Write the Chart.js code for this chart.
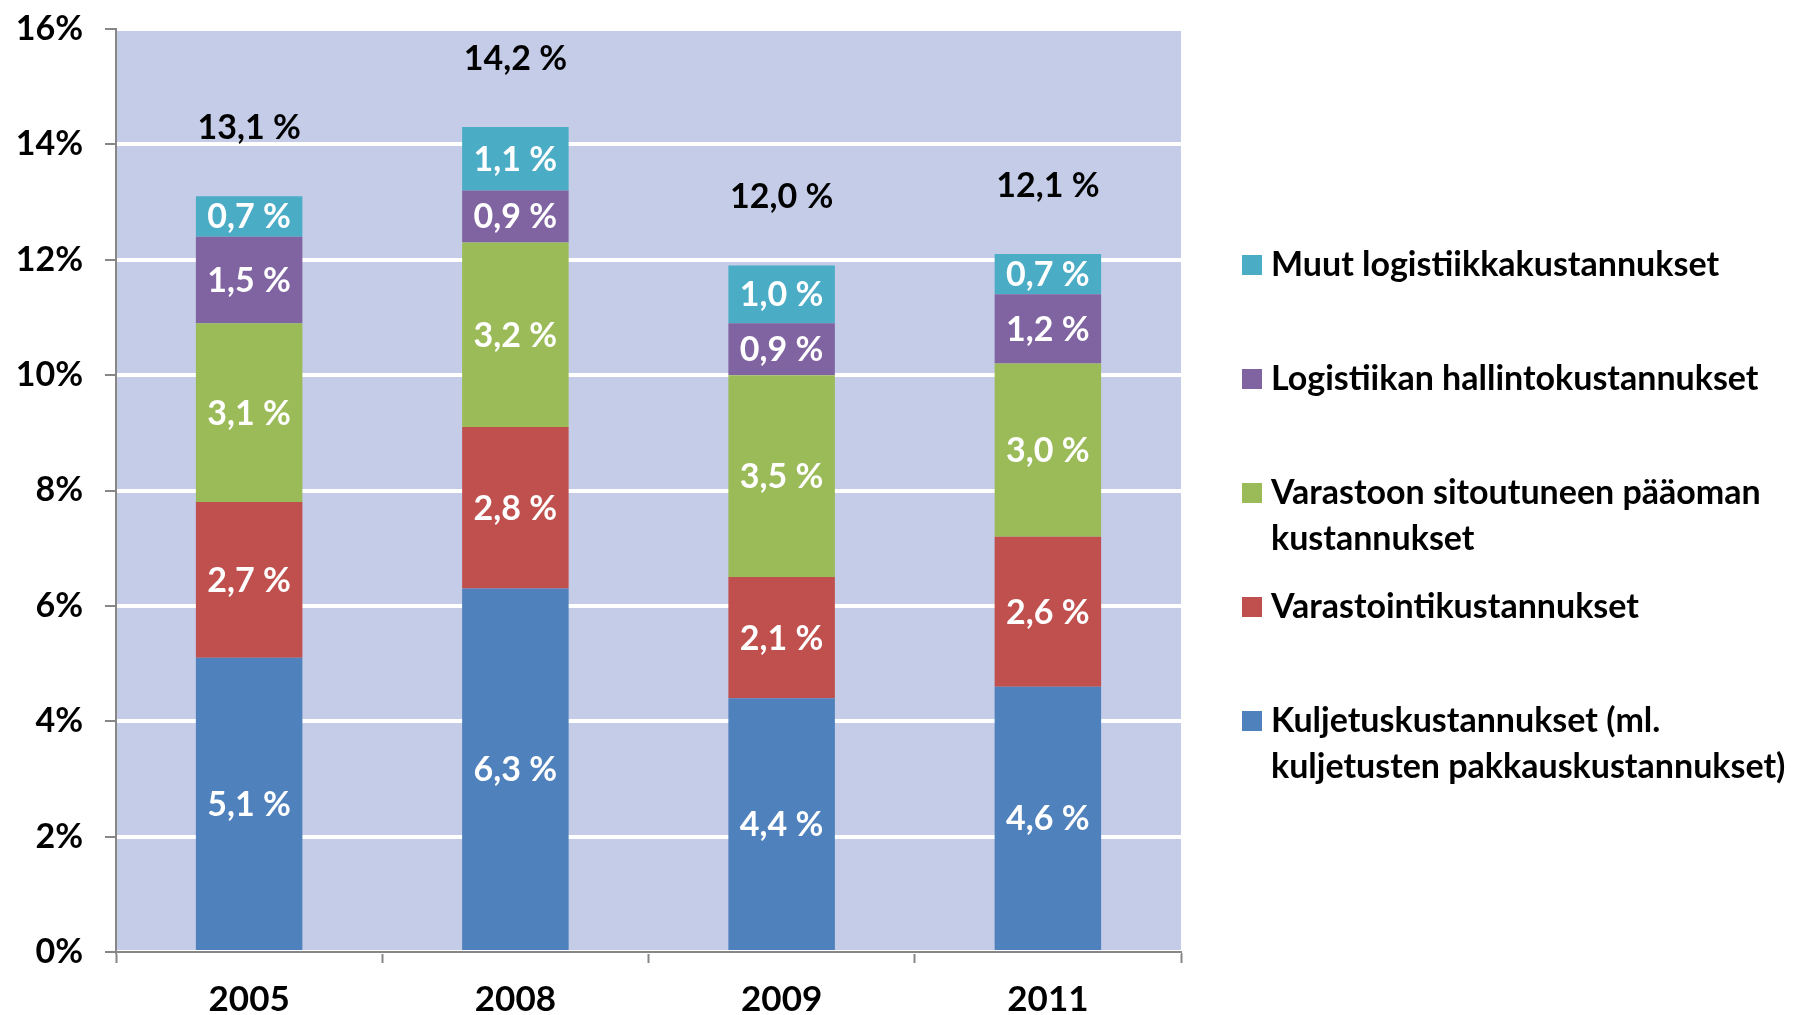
<!DOCTYPE html>
<html>
<head>
<meta charset="utf-8">
<title>Logistiikkakustannukset</title>
<script src="https://cdn.jsdelivr.net/npm/chart.js@4.4.0/dist/chart.umd.min.js"></script>
<style>
body{margin:0;background:#fff;}
#wrap{width:1807px;height:1015px;}
</style>
</head>
<body>
<div id="wrap"><canvas id="chart" width="1807" height="1015"></canvas></div>
<script>
var years = ['2005', '2008', '2009', '2011'];
var kuljetus = [5.1, 6.3, 4.4, 4.6];
var varastointi = [2.7, 2.8, 2.1, 2.6];
var paaoma = [3.1, 3.2, 3.5, 3.0];
var hallinto = [1.5, 0.9, 0.9, 1.2];
var muut = [0.7, 1.1, 1.0, 0.7];
var totals = [13.1, 14.2, 12.0, 12.1];
var yTicks = [0, 2, 4, 6, 8, 10, 12, 14, 16];

var seriesNames = [
  'Kuljetuskustannukset (ml.\nkuljetusten pakkauskustannukset)',
  'Varastointikustannukset',
  'Varastoon sitoutuneen pääoman\nkustannukset',
  'Logistiikan hallintokustannukset',
  'Muut logistiikkakustannukset'
];
var seriesColors = ['#4f81bd', '#c0504d', '#9bbb59', '#8064a2', '#4bacc6'];
var seriesData = [kuljetus, varastointi, paaoma, hallinto, muut];

function fmt(v){
  return v.toFixed(1).replace('.', ',') + ' %';
}

Chart.defaults.font.family = 'Lato, "Open Sans", sans-serif';
Chart.defaults.color = '#000';

var datasets = [];
for (var i = 0; i < seriesData.length; i++) {
  datasets.push({
    label: seriesNames[i].replace('\n', ' '),
    data: seriesData[i],
    backgroundColor: seriesColors[i],
    borderWidth: 0,
    barPercentage: 0.4,
    categoryPercentage: 1
  });
}

// plot area fill
var plotBg = {
  id: 'plotBg',
  beforeDraw: function(chart){
    var a = chart.chartArea;
    var ctx = chart.ctx;
    ctx.save();
    ctx.fillStyle = '#c5cce8';
    ctx.fillRect(a.left, a.top, a.right - a.left, a.bottom - a.top);
    ctx.restore();
  }
};

// value labels inside segments + totals above
var barLabels = {
  id: 'barLabels',
  afterDatasetsDraw: function(chart){
    var ctx = chart.ctx;
    ctx.save();
    ctx.textAlign = 'center';
    ctx.textBaseline = 'middle';
    ctx.font = 'bold 34px Lato';
    ctx.fillStyle = '#fff';
    chart.data.datasets.forEach(function(ds, di){
      var meta = chart.getDatasetMeta(di);
      meta.data.forEach(function(bar, k){
        ctx.fillText(fmt(ds.data[k]), bar.x, (bar.y + bar.base) / 2 + 1);
      });
    });
    var top = chart.getDatasetMeta(chart.data.datasets.length - 1);
    ctx.fillStyle = '#000';
    top.data.forEach(function(bar, k){
      ctx.fillText(fmt(totals[k]), bar.x, bar.y - 68);
    });
    ctx.restore();
  }
};

// legend on the right, reversed order, with wrapped names
var sideLegend = {
  id: 'sideLegend',
  afterDraw: function(chart){
    var ctx = chart.ctx;
    var x = chart.chartArea.right + 61;
    var y = 265;
    ctx.save();
    ctx.font = 'bold 34px Lato';
    ctx.textBaseline = 'middle';
    ctx.textAlign = 'left';
    for (var i = chart.data.datasets.length - 1; i >= 0; i--) {
      var lines = seriesNames[i].split('\n');
      ctx.fillStyle = chart.data.datasets[i].backgroundColor;
      ctx.fillRect(x, y - 10, 20, 20);
      ctx.fillStyle = '#000';
      for (var j = 0; j < lines.length; j++) {
        ctx.fillText(lines[j], x + 29, y + j * 46);
      }
      y += 114;
    }
    ctx.restore();
  }
};

var ctx = document.getElementById('chart').getContext('2d');
var myChart = new Chart(ctx, {
  type: 'bar',
  data: { labels: years, datasets: datasets },
  options: {
    responsive: false,
    animation: false,
    devicePixelRatio: 1,
    layout: { padding: { top: 29, right: 626, left: 0, bottom: 0 } },
    plugins: { legend: { display: false }, tooltip: { enabled: false } },
    scales: {
      x: {
        stacked: true,
        z: 1,
        grid: { drawOnChartArea: false, drawTicks: true, tickLength: 11, tickColor: '#878787', tickWidth: 2, offset: true },
        border: { color: '#878787', width: 2 },
        ticks: { font: { size: 35, weight: 'bold' }, color: '#000', padding: 16 },
        afterFit: function(scale){ scale.height = 63; }
      },
      y: {
        stacked: true,
        min: 0,
        max: 16,
        afterBuildTicks: function(axis){
          axis.ticks = yTicks.map(function(v){ return { value: v }; });
        },
        grid: { color: '#ffffff', lineWidth: 4, tickColor: '#878787', tickWidth: 2, tickLength: 11 },
        border: { color: '#878787', width: 2 },
        ticks: {
          font: { size: 34, weight: 'bold' },
          color: '#000',
          padding: 22,
          callback: function(v){ return v + '%'; }
        },
        afterFit: function(scale){
          scale.width = 116;
          scale.paddingTop = 0;
          scale.paddingBottom = 0;
        }
      }
    }
  },
  plugins: [plotBg, barLabels, sideLegend]
});
</script>
</body>
</html>
